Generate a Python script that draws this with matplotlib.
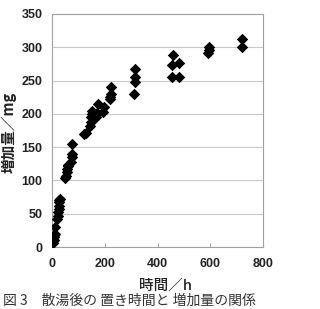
import matplotlib
matplotlib.use("Agg")
import matplotlib.pyplot as plt

plt.rcParams['font.family'] = ['Liberation Sans', 'Noto Sans CJK JP', 'DejaVu Sans']

hours = [3, 4, 5, 6, 7, 8, 10, 13,
         20, 22, 24, 25, 26, 27, 28, 30,
         50, 52, 55, 58, 60, 62,
         72, 74, 75, 76,
         120, 128,
         145, 146, 148, 150, 152,
         168, 172, 175,
         192, 196,
         218, 220, 222, 224,
         312, 313, 314, 315,
         455, 456, 457,
         482, 483,
         593, 594, 595,
         720, 721]
gain = [6, 9, 12, 15, 18, 10, 20, 30,
        42, 47, 52, 57, 62, 67, 70, 72,
        103, 106, 112, 117, 121, 123,
        128, 135, 140, 155,
        170, 172,
        182, 188, 195, 200, 205,
        196, 202, 215,
        203, 210,
        222, 226, 230, 240,
        230, 248, 255, 268,
        256, 273, 289,
        256, 276,
        292, 296, 300,
        300, 312]

xticks = [0, 200, 400, 600, 800]
yticks = [0, 50, 100, 150, 200, 250, 300, 350]

fig = plt.figure(figsize=(3.2, 3.09), dpi=100)
ax = fig.add_axes([0.1625, 0.2006, 0.6595, 0.7541])
ax.scatter(hours, gain, marker='D', s=34, color='black', zorder=3, linewidths=0)
ax.set_xlim(0, 800)
ax.set_ylim(0, 350)
ax.set_xticks(xticks)
ax.set_yticks(yticks)
ax.yaxis.grid(True, color='#c8c8c8', linewidth=0.8)
ax.set_axisbelow(True)
for sp in ax.spines.values():
    sp.set_color('#a0a0a0')
    sp.set_linewidth(0.8)
ax.tick_params(axis='x', direction='in', length=3, color='#a0a0a0', labelsize=9, pad=8)
ax.tick_params(axis='y', length=0, labelsize=9, pad=7)
for lbl in ax.get_xticklabels() + ax.get_yticklabels():
    lbl.set_fontweight('bold')
    lbl.set_color('#222222')
ax.set_xlabel('時間／h', fontsize=10.5, fontweight='medium', color='#222222',
              family=['Noto Sans CJK JP', 'DejaVu Sans'])
ax.set_ylabel('増加量／mg', fontsize=10.5, fontweight='bold', color='#222222',
              family=['Noto Sans CJK JP', 'DejaVu Sans'])
ax.xaxis.set_label_coords(0.54, -0.135)
ax.yaxis.set_label_coords(-0.165, 0.49)
fig.text(0.01, 0.004, '図 3　散湯後の 置き時間と 増加量の関係', fontsize=10,
         color='#333333', family=['Noto Sans CJK JP', 'DejaVu Sans'], va='bottom')
fig.savefig('out.png', dpi=100)
